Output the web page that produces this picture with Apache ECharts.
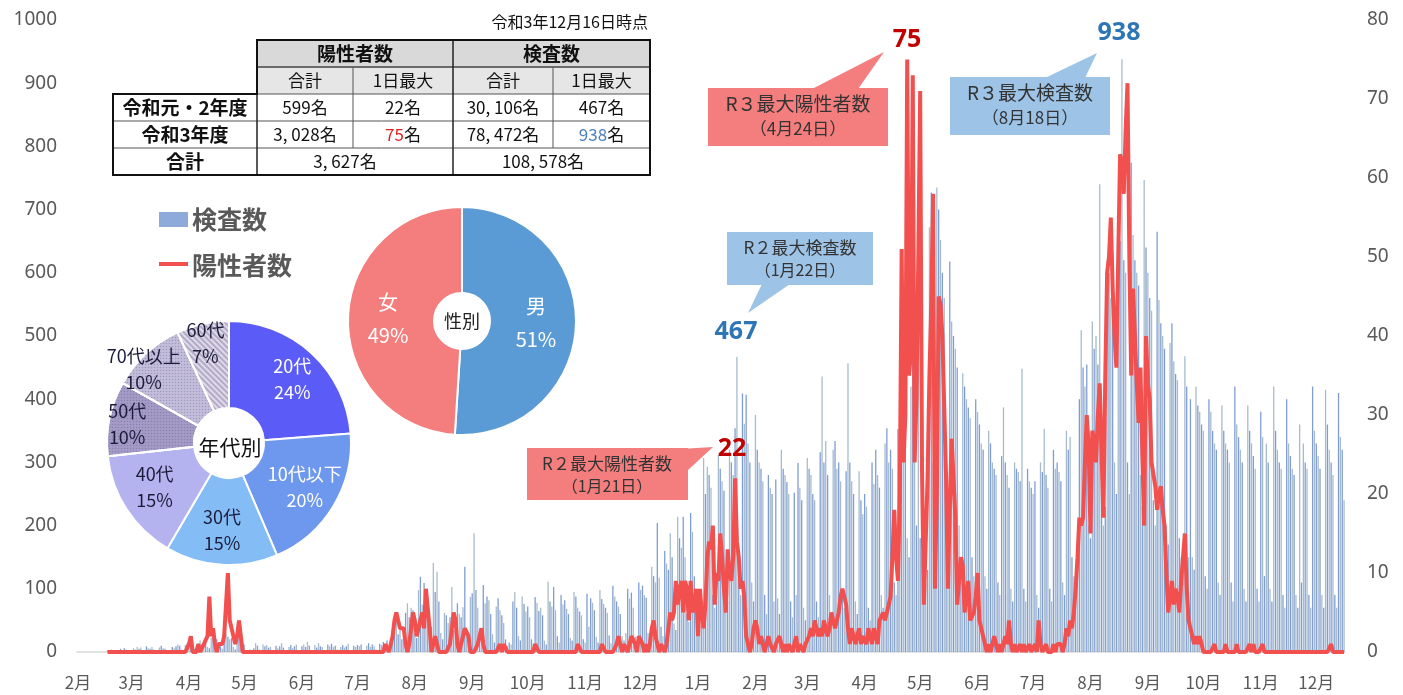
<!DOCTYPE html>
<html>
<head>
<meta charset="utf-8">
<script src="https://cdn.jsdelivr.net/npm/echarts@6/dist/echarts.min.js"></script>
<style>
  html, body { margin: 0; padding: 0; background: #fff; }
  #main { width: 1403px; height: 695px; }
</style>
</head>
<body>
<div id="main"></div>
<script>
// daily values, 2020-02-01 .. 2021-12-16 (one line per month)
var tests2020 = [
  0,0,0,0,0,0,0,0,0,0,0,0,0,0,0,0,3,2,4,1,2,0,0,5,3,6,4,2,0,
  0,6,4,8,5,7,2,1,9,6,5,8,4,1,0,7,10,6,5,2,3,1,8,6,9,12,10,4,2,11,14,
  12,15,10,5,3,14,18,12,16,20,8,6,22,25,18,20,15,9,5,19,28,24,20,22,8,4,18,21,6,15,
  12,3,2,4,3,6,14,10,4,2,12,9,11,7,8,3,1,10,6,9,14,7,2,1,8,11,6,9,12,3,2,
  9,12,8,16,10,3,2,11,7,14,9,8,2,1,12,9,13,8,10,4,2,8,11,7,9,13,3,1,10,8,
  11,9,12,3,2,10,14,8,12,9,4,2,13,11,16,12,18,5,8,30,45,50,28,35,20,15,62,77,55,70,66,
  30,22,98,119,75,109,87,45,35,40,141,95,127,80,30,20,62,58,46,55,103,35,18,77,60,55,71,135,30,25,87,
  93,188,98,70,35,22,106,77,88,82,60,28,15,72,85,66,58,46,20,10,15,12,80,95,70,25,18,88,76,64,
  72,55,20,14,87,78,65,70,58,18,12,111,80,72,103,66,25,15,90,75,82,68,60,22,18,95,88,70,64,58,20,
  15,92,40,85,78,66,24,15,98,84,76,70,62,26,14,105,88,80,72,60,25,18,30,100,85,94,70,24,16,110,
  98,105,90,86,30,20,135,120,110,204,118,40,25,160,140,130,188,150,45,35,214,180,165,214,150,60,48,220,190,120,80
];
var tests2021 = [
  40,50,60,307,250,293,280,260,90,70,80,312,290,270,255,100,80,320,300,280,354,467,120,90,409,361,407,330,300,110,80,
  375,320,300,290,270,90,60,280,260,250,80,273,85,60,320,290,280,269,250,80,55,252,90,299,260,240,70,50,
  307,290,280,250,240,80,55,316,436,300,334,280,90,60,320,334,290,300,270,90,70,286,457,300,270,250,80,60,286,240,218,
  250,230,70,50,300,266,320,280,260,90,70,330,354,300,320,290,110,90,353,340,380,400,428,180,150,420,520,480,200,450,
  180,150,120,110,130,672,727,300,250,735,700,652,600,560,250,200,618,523,500,480,450,200,150,441,420,400,387,370,150,120,400,
  380,360,330,320,120,100,350,330,300,290,280,110,90,310,387,300,280,260,100,80,300,290,285,270,448,100,80,290,270,260,
  250,270,90,70,300,285,353,280,260,100,80,320,290,300,285,270,110,90,350,320,340,150,120,130,120,400,509,450,420,455,200,
  180,523,480,500,455,740,250,200,230,620,600,560,580,300,250,700,650,938,620,600,300,250,774,660,620,600,580,280,230,747,640,
  600,560,540,240,200,665,557,520,500,480,200,170,489,520,460,440,430,180,150,140,468,420,150,400,150,130,420,390,380,360,
  350,120,100,400,380,350,330,320,110,90,390,350,330,320,300,110,80,420,360,340,320,300,100,80,390,350,330,310,290,100,80,
  380,340,120,330,300,100,80,420,350,320,300,290,90,70,400,330,310,290,280,90,70,360,110,330,300,290,90,70,420,350,
  330,310,290,90,70,415,360,320,300,280,90,70,410,340,320,240
];
var pos2020 = [
  null,null,null,null,null,null,null,null,null,null,null,null,null,null,null,null,0,0,0,0,0,0,0,0,0,0,0,0,0,
  0,0,0,0,0,0,0,0,0,0,0,0,0,0,0,0,0,0,0,0,0,0,0,0,0,0,0,0,0,0,0,
  1,2,0,0,0,1,0,0,1,1,2,7,2,3,1,0,1,1,1,2,2,10,4,3,3,1,2,4,2,0,
  0,0,0,0,0,0,0,0,0,0,0,0,0,0,0,0,0,0,0,0,0,0,0,0,0,0,0,0,0,0,0,
  0,0,0,0,0,0,0,0,0,0,0,0,0,0,0,0,0,0,0,0,0,0,0,0,0,0,0,0,0,0,
  0,0,0,0,0,0,0,0,0,0,0,0,0,0,0,1,1,0,1,2,4,5,4,3,3,3,1,0,1,3,5,
  4,2,3,4,5,3,8,8,3,0,1,2,1,0,0,0,0,0,0,1,3,5,4,1,0,1,2,3,3,2,0,
  0,0,0,1,2,3,1,0,0,0,0,0,0,0,0,1,0,1,1,0,0,0,0,0,0,0,0,0,0,0,
  0,0,0,0,1,1,0,0,0,0,0,0,0,0,0,0,0,0,0,0,0,0,0,0,0,0,0,1,1,0,0,
  0,0,0,0,0,0,0,0,0,1,1,0,0,0,0,0,0,1,2,1,0,1,1,0,0,2,2,1,0,2,
  2,1,0,1,0,1,3,4,2,1,0,1,1,0,1,3,5,4,5,9,6,8,9,5,9,8,4,9,5,6,8
];
var pos2021 = [
  2,8,5,3,6,12,14,13,16,6,10,9,15,12,8,5,13,10,9,12,22,14,12,8,9,7,2,1,0,1,3,
  4,3,1,2,1,0,1,2,1,1,0,1,1,2,1,0,1,0,1,1,0,1,2,0,1,1,0,1,
  1,2,3,2,4,3,2,3,2,4,3,2,3,5,4,3,4,5,7,8,8,6,3,1,3,2,1,2,3,1,2,
  2,1,3,2,1,3,2,1,4,4,5,4,5,5,7,12,18,12,9,20,51,24,30,75,35,38,73,24,32,50,
  71,23,6,14,22,35,44,58,8,20,45,44,40,40,22,8,18,27,22,17,6,9,12,11,5,7,9,4,4,5,7,
  10,4,3,2,2,0,1,0,1,2,1,0,1,0,1,2,1,4,1,0,1,0,0,1,0,1,0,0,1,0,
  0,1,0,4,1,0,0,1,0,0,0,1,0,1,1,1,0,1,3,2,4,3,5,8,12,17,16,17,24,30,26,
  15,28,27,24,30,34,25,17,35,48,50,55,46,40,36,50,63,62,58,66,72,50,35,46,46,34,29,36,25,16,40,
  34,32,24,24,21,18,20,21,18,16,10,5,7,9,6,8,7,5,9,12,15,8,4,3,2,1,2,1,2,1,
  0,0,0,0,0,0,1,0,0,0,0,0,1,0,0,0,0,0,1,0,0,0,0,0,0,1,0,1,0,0,0,
  0,1,0,0,0,0,0,0,0,0,0,0,0,0,0,0,0,0,0,0,0,0,0,0,0,0,0,0,0,0,
  0,0,0,0,0,0,0,0,1,0,0,0,0,0,0,0
];

var genderNames = ['男', '女'];
var genderShares = [51, 49];
var ageNames = ['20代', '10代以下', '30代', '40代', '50代', '70代以上', '60代'];
var ageShares = [24, 20, 15, 15, 10, 10, 7];

var tableTitle = '令和3年12月16日時点';
var tableHead1 = ['陽性者数', '検査数'];
var tableHead2 = ['合計', '1日最大', '合計', '1日最大'];
var rowLabels = ['令和元・2年度', '令和3年度', '合計'];
var rowFY2 = ['599名', '22名', '30, 106名', '467名'];
var rowFY3 = ['3, 028名', '{r|75}名', '78, 472名', '{b|938}名'];
var rowTotal = ['3, 627名', '108, 578名'];

var chartDom = document.getElementById('main');
var myChart = echarts.init(chartDom);
var option;

var JP = '"Noto Sans CJK JP", "Noto Sans", sans-serif';
var RED = '#c00000';
var BLUE = '#2e75b6';

function pad(n) { return n < 10 ? '0' + n : '' + n; }
var tests = tests2020.concat(tests2021);
var positives = pos2020.concat(pos2021);
var days = [];
for (var k = 0; k < tests.length; k++) {
  var d = new Date(Date.UTC(2020, 1, 1 + k));
  days.push(d.getUTCFullYear() + '-' + pad(d.getUTCMonth() + 1) + '-' + pad(d.getUTCDate()));
}
function monthStart(idx, val) { return val.slice(8) === '01'; }

function txt(x, y, text, font, fill, align, rich) {
  return {
    type: 'text', z: 100,
    style: {
      x: x, y: y, text: text, font: font, fill: fill || '#000',
      textAlign: align || 'center', align: align || 'center',
      textVerticalAlign: 'middle', verticalAlign: 'middle',
      rich: rich
    }
  };
}
function box(x, y, w, h, fill, stroke, lw) {
  return { type: 'rect', z: 99, shape: { x: x, y: y, width: w, height: h },
    style: { fill: fill, stroke: stroke || null, lineWidth: lw || 0 } };
}
function seg(x1, y1, x2, y2, color, lw) {
  return { type: 'line', z: 100, shape: { x1: x1, y1: y1, x2: x2, y2: y2 },
    style: { stroke: color, lineWidth: lw } };
}
function tri(points, fill) {
  return { type: 'polygon', z: 99, shape: { points: points }, style: { fill: fill } };
}

// table
var colC = [305, 403, 503, 601.5];
var richNum = { r: { fill: '#e02020', font: '17px ' + JP }, b: { fill: '#4f81bd', font: '17px ' + JP } };
var g = [];
g.push(box(257, 40, 393, 27, '#d9d9d9'));
g.push(box(257, 67, 393, 27, '#e7e6e6'));
g.push(seg(257, 67, 650, 67, '#444', 1.5));
[94, 121, 148].forEach(function (y) { g.push(seg(113, y, 650, y, '#555', 1)); });
g.push(seg(353, 67, 353, 148, '#555', 1));
g.push(seg(553, 67, 553, 148, '#555', 1));
g.push(seg(453, 40, 453, 175, '#222', 1.5));
g.push(seg(257, 94, 257, 175, '#222', 1.5));
g.push({ type: 'polygon', z: 100, shape: { points: [[257, 40], [650, 40], [650, 175], [113, 175], [113, 94], [257, 94]] },
  style: { fill: null, stroke: '#111', lineWidth: 2 } });
g.push(txt(648, 22, tableTitle, '16px ' + JP, '#111', 'right'));
g.push(txt(355, 53.5, tableHead1[0], 'bold 19px ' + JP, '#111'));
g.push(txt(551.5, 53.5, tableHead1[1], 'bold 19px ' + JP, '#111'));
tableHead2.forEach(function (t, i) { g.push(txt(colC[i], 80.5, t, '17px ' + JP, '#111')); });
rowLabels.forEach(function (t, i) { g.push(txt(185, 107.5 + 27 * i, t, 'bold 19px ' + JP, '#111')); });
rowFY2.forEach(function (t, i) { g.push(txt(colC[i], 107.5, t, '17px ' + JP, '#111')); });
rowFY3.forEach(function (t, i) { g.push(txt(colC[i], 134.5, t, '17px ' + JP, '#111', 'center', richNum)); });
g.push(txt(345, 161.5, rowTotal[0], '17px ' + JP, '#111'));
g.push(txt(543, 161.5, rowTotal[1], '17px ' + JP, '#111'));

// legend
g.push(box(159, 212, 29, 15, '#8eaadb'));
g.push(txt(192, 219, '検査数', 'bold 25px ' + JP, '#595959', 'left'));
g.push(seg(159, 264, 188, 264, '#f05050', 4));
g.push(txt(192, 265, '陽性者数', 'bold 25px ' + JP, '#595959', 'left'));

// pie centre captions
g.push(txt(462, 321, '性別', '18px ' + JP, '#222'));
g.push(txt(230, 447, '年代別', '21px ' + JP, '#111'));

// callouts
var PINK = '#f47d7d', SKY = '#9dc3e6';
g.push(tri([[812, 89], [858, 89], [884, 52]], PINK));
g.push(box(708, 88, 180, 58, PINK));
g.push(txt(798, 104, 'R３最大陽性者数', '19px ' + JP, '#333'));
g.push(txt(798, 129, '（4月24日）', '17px ' + JP, '#333'));
g.push(txt(907, 40, '75', 'bold 25px "Noto Sans", sans-serif', RED));

g.push(tri([[1045, 78], [1085, 78], [1097, 53]], SKY));
g.push(box(950, 77, 160, 58, SKY));
g.push(txt(1030, 93, 'R３最大検査数', '19px ' + JP, '#333'));
g.push(txt(1030, 118, '（8月18日）', '17px ' + JP, '#333'));
g.push(txt(1119, 33, '938', 'bold 25px "Noto Sans", sans-serif', BLUE));

g.push(tri([[762, 284], [790, 284], [748, 313]], SKY));
g.push(box(727, 232, 146, 53, SKY));
g.push(txt(800, 248, 'R２最大検査数', '17px ' + JP, '#333'));
g.push(txt(800, 270, '（1月22日）', '16px ' + JP, '#333'));
g.push(txt(736, 332, '467', 'bold 25px "Noto Sans", sans-serif', BLUE));

g.push(tri([[680, 449], [688, 470], [713, 447]], PINK));
g.push(box(527, 448, 161, 52, PINK));
g.push(txt(607, 464, 'R２最大陽性者数', '17px ' + JP, '#333'));
g.push(txt(607, 486, '（1月21日）', '16px ' + JP, '#333'));
g.push(txt(732, 449, '22', 'bold 25px "Noto Sans", sans-serif', RED));

var ageColors = ['#5b5bf8', '#6e97ee', '#84bcf5', '#b5b3ef', '#a49bc6', '#c4bedb', '#dedae8'];
var ageLabelColors = ['#fff', '#fff', '#1c1c3a', '#1c1c3a', '#1c1c3a', '#1c1c3a', '#1c1c3a'];
var ageOffsets = [[8, -4], [6, 2], [-2, 6], [-6, 0], [-22, -2], [-30, -14], [-6, -20]];
var dots = { symbol: 'circle', symbolSize: 0.5, dashArrayX: [3, 0], dashArrayY: [3, 0], color: 'rgba(90,80,140,0.35)' };
var hatch = { symbol: 'rect', rotation: Math.PI / 4, dashArrayX: [[1, 0]], dashArrayY: [1.5, 2], color: 'rgba(110,100,150,0.4)' };

option = {
  animation: false,
  backgroundColor: '#fff',
  grid: { left: 77, right: 58, top: 20, bottom: 43 },
  xAxis: {
    type: 'category',
    data: days,
    boundaryGap: true,
    axisLine: { lineStyle: { color: '#d9d9d9', width: 1.5 } },
    axisTick: { alignWithLabel: true, interval: monthStart, length: 6, lineStyle: { color: '#d9d9d9' } },
    axisLabel: {
      interval: monthStart, margin: 22, color: '#595959', fontSize: 17, fontFamily: JP,
      formatter: function (v) { return parseInt(v.slice(5, 7), 10) + '月'; }
    }
  },
  yAxis: [
    {
      type: 'value', min: 0, max: 1000, interval: 100,
      axisLine: { show: false }, axisTick: { show: false }, splitLine: { show: false },
      axisLabel: { color: '#595959', fontSize: 19, margin: 20, fontFamily: '"Noto Sans", sans-serif',
        formatter: function (v) { return String(v); } }
    },
    {
      type: 'value', min: 0, max: 80, interval: 10,
      axisLine: { show: false }, axisTick: { show: false }, splitLine: { show: false },
      axisLabel: { color: '#595959', fontSize: 19, margin: 22, fontFamily: '"Noto Sans", sans-serif' }
    }
  ],
  series: [
    {
      name: '検査数', type: 'bar', yAxisIndex: 0, data: tests,
      barCategoryGap: '30%', silent: true,
      itemStyle: { color: function (p) { return p.dataIndex % 2 ? '#7f9dd4' : '#a6bccb'; } }
    },
    {
      name: '陽性者数', type: 'line', yAxisIndex: 1, data: positives,
      showSymbol: false, silent: true, z: 3,
      lineStyle: { color: '#f24f4f', width: 4 }
    },
    {
      type: 'pie', center: [462, 321], radius: [28, 114], startAngle: 90, clockwise: true,
      silent: true, z: 5,
      itemStyle: { borderColor: '#fff', borderWidth: 2 },
      label: { position: 'inside', formatter: '{b}\n{c}%', color: '#fff', fontSize: 20, lineHeight: 33, fontFamily: JP },
      data: genderNames.map(function (n, i) {
        return { name: n, value: genderShares[i], itemStyle: { color: ['#5b9bd5', '#f47d7d'][i] } };
      })
    },
    {
      type: 'pie', center: [229, 443], radius: [35, 122], startAngle: 90, clockwise: true,
      silent: true, z: 5,
      itemStyle: { borderColor: '#fff', borderWidth: 2 },
      label: { position: 'inside', formatter: '{b}\n{c}%', fontSize: 18, lineHeight: 26, fontFamily: JP },
      data: ageNames.map(function (n, i) {
        var it = { name: n, value: ageShares[i],
          itemStyle: { color: ageColors[i] },
          label: { color: ageLabelColors[i], offset: ageOffsets[i] } };
        if (i === 4 || i === 5) it.itemStyle.decal = dots;
        if (i === 6) it.itemStyle.decal = hatch;
        return it;
      })
    }
  ],
  graphic: { elements: g }
};

option && myChart.setOption(option);
</script>
</body>
</html>
